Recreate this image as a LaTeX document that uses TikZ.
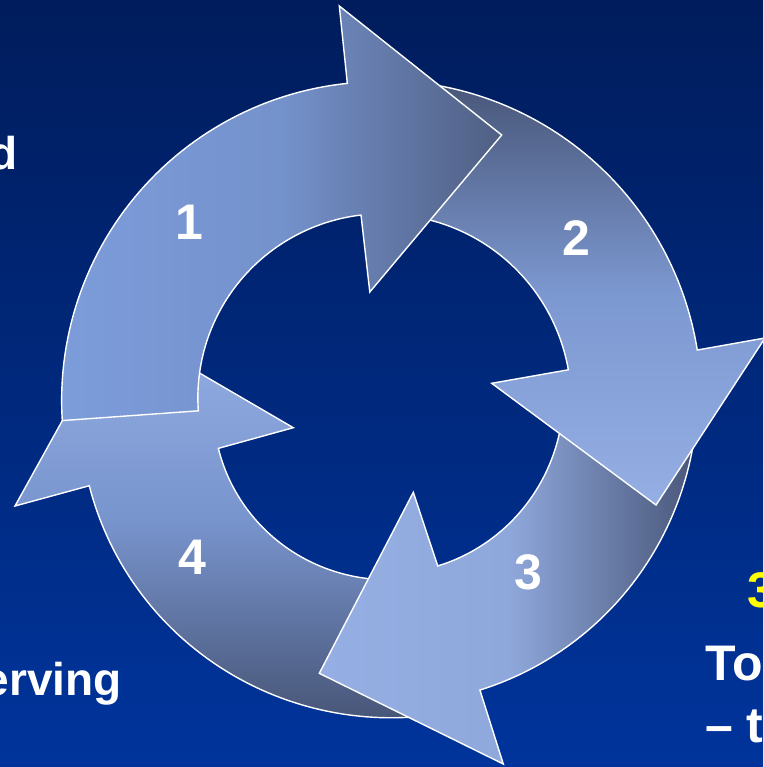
\documentclass[tikz,border=0pt]{standalone}
\usepackage{fontspec}
\setmainfont{Liberation Sans}
\definecolor{bgtop}{RGB}{0,28,92}
\definecolor{bgbot}{RGB}{0,52,156}
\definecolor{armlight}{RGB}{149,175,228}
\definecolor{armmid}{RGB}{120,148,205}
\definecolor{armdark}{RGB}{72,86,120}
\definecolor{armblue}{RGB}{124,156,218}
\definecolor{textyellow}{RGB}{255,255,0}
% line on to a piece of the ring: angle from, angle to, radius from, radius to
\newcommand{\ringarc}[4]{-- plot[domain=#1:#2,samples=60,variable=\t] ({380.6+(#3+(#4-#3)*(\t-(#1))/((#2)-(#1)))*cos(\t)},{400-(#3+(#4-#3)*(\t-(#1))/((#2)-(#1)))*sin(\t)})}

\begin{document}
\begin{tikzpicture}[x=1pt,y=-1pt,
  every node/.style={font=\fontsize{50}{56}\selectfont\bfseries,text=white,inner sep=0pt},
  lefttext/.style={font=\fontsize{46}{52}\selectfont\bfseries,anchor=base east},
  arrowpart/.style={draw=white,line width=1.4pt,line join=miter},
  num/.style={font=\fontsize{50}{56}\selectfont\bfseries}]
  \useasboundingbox (0,0) rectangle (763,767);
  \clip (0,0) rectangle (763,767);
  \shade[top color=bgtop,bottom color=bgbot] (0,0) rectangle (763,767);

  % Arrow 4: left, going up (tail under arrow 3, tip under arrow 1)
  \shadedraw[arrowpart,top color=armlight,bottom color=armdark,middle color=armmid]
    (15,506) -- (115.8,324.2) -- (293.3,427.7)
    \ringarc{-163.4}{-80}{169.3}{181}
    \ringarc{-80}{-163.6}{319.5}{303.7} -- cycle;

  % Arrow 3: bottom, going left
  \shadedraw[arrowpart,left color=armlight,right color=armdark,middle color=armlight!92!armdark]
    (503.3,764) -- (319.3,673.3) -- (413.3,492.3)
    \ringarc{-71.0}{0}{175.5}{183}
    \ringarc{0}{-71.1}{317}{306.6} -- cycle;

  % Arrow 2: right, going down
  \shadedraw[arrowpart,top color=armdark,bottom color=armlight,middle color=armmid!85!armlight]
    (765,338) -- (656,505) -- (491.7,383.3)
    \ringarc{9.14}{85}{190.2}{186}
    \ringarc{85}{8.97}{319.6}{320.6} -- cycle;

  % Arrow 1: top, going right (drawn last, over the others)
  \shadedraw[arrowpart,left color=armblue,right color=armdark!90!armlight,middle color=armblue!85!armdark]
    (339.3,6) -- (501.7,135) -- (369.8,292)
    \ringarc{96.05}{183.4}{186}{182.6}
    \ringarc{183.7}{96.0}{319}{318.4} -- cycle;

  % step numbers
  \foreach \n/\x/\y in {1/189/222,2/576/238,3/528/572,4/192/557}
    \node[num] (step\n) at (\x,\y) {\n};

  % cut-off side texts
  \node[lefttext] (leftword) at (17.5,170) {d};
  \node[lefttext] (leftserving) at (122,695) {erving};
  \node[anchor=base west,text=textyellow] (rightnum) at (747,607) {3};
  \node[anchor=base west] (rightto) at (705,680) {To};
  \node[anchor=base west] (rightdash) at (705,742) {– t};
\end{tikzpicture}
\end{document}
